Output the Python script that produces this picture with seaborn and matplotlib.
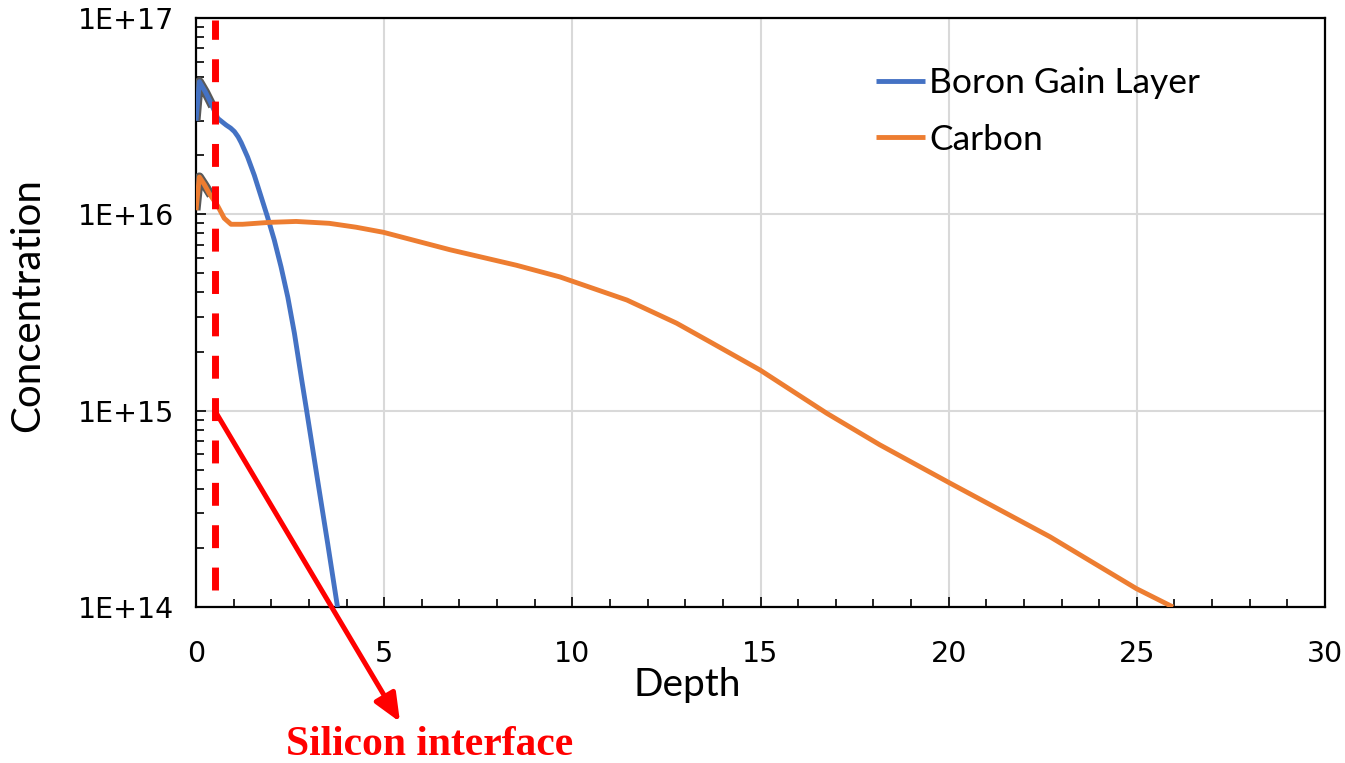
import numpy as np
import matplotlib
matplotlib.use("Agg")
import matplotlib.pyplot as plt
from matplotlib.ticker import FixedLocator, MultipleLocator, LogLocator, FuncFormatter, NullFormatter
import seaborn as sns

# Depth profiles (depth in um, concentration in cm^-3)
boron_depth = [0.0, 0.09, 0.25, 0.4, 0.58, 0.8, 0.92, 1.02, 1.12, 1.2, 1.37, 1.55, 1.73, 1.9,
               2.08, 2.26, 2.44, 2.615, 2.81, 2.94, 3.23, 3.5, 3.76]
boron_conc = [3.0e16, 4.74e16, 4.2e16, 3.67e16, 3.08e16, 2.85e16, 2.75e16, 2.64e16, 2.48e16,
              2.32e16, 1.96e16, 1.58e16, 1.23e16, 9.7e15, 7.4e15, 5.4e15, 3.78e15, 2.48e15,
              1.43e15, 1.0e15, 4.44e14, 2.1e14, 1.0e14]

carbon_depth = [0.0, 0.09, 0.22, 0.35, 0.58, 0.75, 0.93, 1.24, 1.95, 2.66, 3.54, 4.25,
                4.98, 6.75, 8.52, 9.67, 11.45, 12.77, 13.66, 14.99, 16.76, 18.17, 20.04,
                22.69, 24.99, 25.96]
carbon_conc = [1.05e16, 1.55e16, 1.42e16, 1.28e16, 1.1e16, 9.55e15, 8.9e15, 8.9e15, 9.1e15,
               9.2e15, 9.0e15, 8.6e15, 8.1e15, 6.6e15, 5.5e15, 4.8e15, 3.66e15, 2.79e15,
               2.24e15, 1.61e15, 9.7e14, 6.7e14, 4.27e14, 2.28e14, 1.24e14, 1.0e14]

# Near-surface (oxide) portions
boron_surf_depth = [0.0, 0.09, 0.25, 0.44]
boron_surf_conc = [3.0e16, 4.74e16, 4.2e16, 3.55e16]
carbon_surf_depth = [0.0, 0.09, 0.22, 0.4]
carbon_surf_conc = [1.05e16, 1.55e16, 1.42e16, 1.25e16]

interface_depth = 0.5
x_ticks = [0, 5, 10, 15, 20, 25, 30]
y_ticks = [1e14, 1e15, 1e16, 1e17]

sns.set_theme(style="white")
plt.rcParams["font.family"] = ["DejaVu Sans"]

fig = plt.figure(figsize=(13.45, 7.63), dpi=100)
ax = fig.add_axes([196 / 1345, 1 - 607 / 763, 1129 / 1345, 589 / 763])

blue = "#4472C4"
orange = "#ED7D31"
grey = "#595959"

sns.lineplot(x=boron_surf_depth, y=boron_surf_conc, ax=ax, color=grey, lw=6.5,
             estimator=None, sort=False, legend=False, zorder=3)
sns.lineplot(x=carbon_surf_depth, y=carbon_surf_conc, ax=ax, color=grey, lw=6.5,
             estimator=None, sort=False, legend=False, zorder=3)
sns.lineplot(x=boron_depth, y=boron_conc, ax=ax, color=blue, lw=3.5,
             estimator=None, sort=False, label="Boron Gain Layer", zorder=4)
sns.lineplot(x=carbon_depth, y=carbon_conc, ax=ax, color=orange, lw=3.5,
             estimator=None, sort=False, label="Carbon", zorder=4)
for ln in ax.get_lines():
    ln.set_solid_joinstyle("round")
    ln.set_solid_capstyle("butt")

ax.set_yscale("log")
ax.set_xlim(0, 30)
ax.set_ylim(1e14, 1e17)

ax.xaxis.set_major_locator(FixedLocator(x_ticks))
ax.xaxis.set_minor_locator(MultipleLocator(1))
ax.yaxis.set_major_locator(FixedLocator(y_ticks))
ax.yaxis.set_minor_locator(LogLocator(base=10, subs=np.arange(2, 10)))
ax.yaxis.set_major_formatter(FuncFormatter(lambda v, p: f"1E+{int(round(np.log10(v)))}"))
ax.yaxis.set_minor_formatter(NullFormatter())

ax.grid(True, which="major", color="#D9D9D9", lw=1.5)
ax.set_axisbelow(True)
for s in ax.spines.values():
    s.set_color("black")
    s.set_linewidth(1.6)
    s.set_visible(True)

ax.tick_params(axis="both", which="major", direction="in", length=7, width=1.2,
               color="black", labelsize=20.5, labelcolor="black")
ax.tick_params(axis="both", which="minor", direction="in", length=6, width=1.2, color="black")
ax.tick_params(axis="x", which="major", pad=24)
ax.tick_params(axis="y", which="major", pad=16)
ax.tick_params(axis="both", which="both", left=True, bottom=True, top=False, right=False)

ax.set_xlabel("Depth", fontsize=28, family="Lato", color="black")
ax.set_ylabel("Concentration", fontsize=29, family="Lato", color="black")
ax.xaxis.set_label_coords(0.435, -0.102)
ax.yaxis.set_label_coords(-0.133, 0.513)

# Silicon interface marker
ax.axvline(interface_depth, color="red", lw=5, dashes=(3.3, 2.8), ymax=0.996, ymin=0.029, zorder=5)
ax.annotate("", xy=(400 / 1345, 1 - 722 / 763), xycoords="figure fraction",
            xytext=(interface_depth, 1e15), textcoords="data",
            arrowprops=dict(arrowstyle="-|>,head_length=1.4,head_width=0.6",
                            color="red", lw=3.6, shrinkA=0, shrinkB=0),
            annotation_clip=False, zorder=6)
fig.text(430 / 1345, 1 - 745 / 763, "Silicon interface", color="red", fontsize=30,
         fontweight="bold", family="Liberation Serif", ha="center", va="center")

leg = ax.legend(loc="upper left", bbox_to_anchor=(0.602, 0.916), frameon=False,
                prop={"family": "Lato", "size": 25.5}, handlelength=1.4,
                handletextpad=0.12, labelspacing=0.68, borderpad=0, borderaxespad=0)
for t in leg.get_texts():
    t.set_color("black")

fig.savefig("out.png", dpi=100)
